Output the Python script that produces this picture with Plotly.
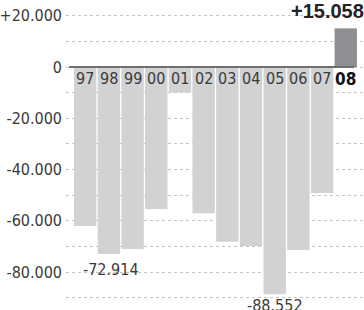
import plotly.graph_objects as go

years = ["97", "98", "99", "00", "01", "02", "03", "04", "05", "06", "07", "08"]
values = [-62000, -72914, -71000, -55400, -10000, -57000, -68100, -69800, -88552, -71300, -49100, 15058]
bar_colors = ["#d1d2d4"] * 11 + ["#8f9094"]
tick_vals = [-90000, -80000, -70000, -60000, -50000, -40000, -30000, -20000, -10000, 0, 10000, 20000]
tick_text = ["", "-80.000", "", "-60.000", "", "-40.000", "", "-20.000", "", "0", "", "+20.000"]
labelled = {1: "-72.914", 8: "-88.552"}
highlight = {11: "+15.058"}

FONT = "Liberation Sans Narrow, DejaVu Sans Condensed, Arial Narrow, sans-serif"
xs = list(range(len(years)))

fig = go.Figure()
fig.add_trace(go.Bar(x=xs, y=values, marker=dict(color=bar_colors, line=dict(width=0)),
                     width=0.945, hoverinfo="skip"))

fig.add_shape(type="line", xref="x", yref="y", x0=-0.68, x1=11.35, y0=0, y1=0,
              line=dict(color="#6d6e71", width=2), layer="above")

anns = []
for i, y in enumerate(years):
    bold = i == len(years) - 1
    anns.append(dict(x=xs[i], y=0, xref="x", yref="y", text=f"<b>{y}</b>" if bold else y,
                     showarrow=False, yanchor="top", yshift=0,
                     font=dict(family=FONT, size=17 if bold else 16, color="#111" if bold else "#3a3a3a")))
for i, t in labelled.items():
    anns.append(dict(x=xs[i], y=values[i], xref="x", yref="y", text=t, showarrow=False,
                     yanchor="top", yshift=-4 if i == 1 else 0, xshift=2 if i == 1 else 0,
                     font=dict(family=FONT, size=16, color="#3a3a3a")))
for i, t in highlight.items():
    anns.append(dict(x=xs[i], y=values[i], xref="x", yref="y", text=f"<b>{t}</b>", showarrow=False,
                     xanchor="right", yanchor="bottom", xshift=20, yshift=4,
                     font=dict(family="Liberation Sans, Arial, sans-serif", size=20, color="#222")))

fig.update_layout(
    width=364, height=310,
    margin=dict(l=62, r=0, t=0, b=0),
    paper_bgcolor="white", plot_bgcolor="white",
    showlegend=False,
    bargap=0.05,
    annotations=anns,
    xaxis=dict(range=[-0.81, 11.77], showticklabels=False, showgrid=False, zeroline=False,
               showline=False, ticks=""),
    yaxis=dict(range=[-94740, 26120], tickmode="array", tickvals=tick_vals, ticktext=tick_text,
               showgrid=True, gridcolor="#c4c4c4", griddash="dot", gridwidth=1,
               zeroline=False, showline=False, ticks="", ticklabelstandoff=3,
               tickfont=dict(family=FONT, size=16, color="#3a3a3a")),
)

fig.write_html("out.html", config={"displayModeBar": False},
               post_script="document.body.style.margin='0px';document.body.style.overflow='hidden';")
